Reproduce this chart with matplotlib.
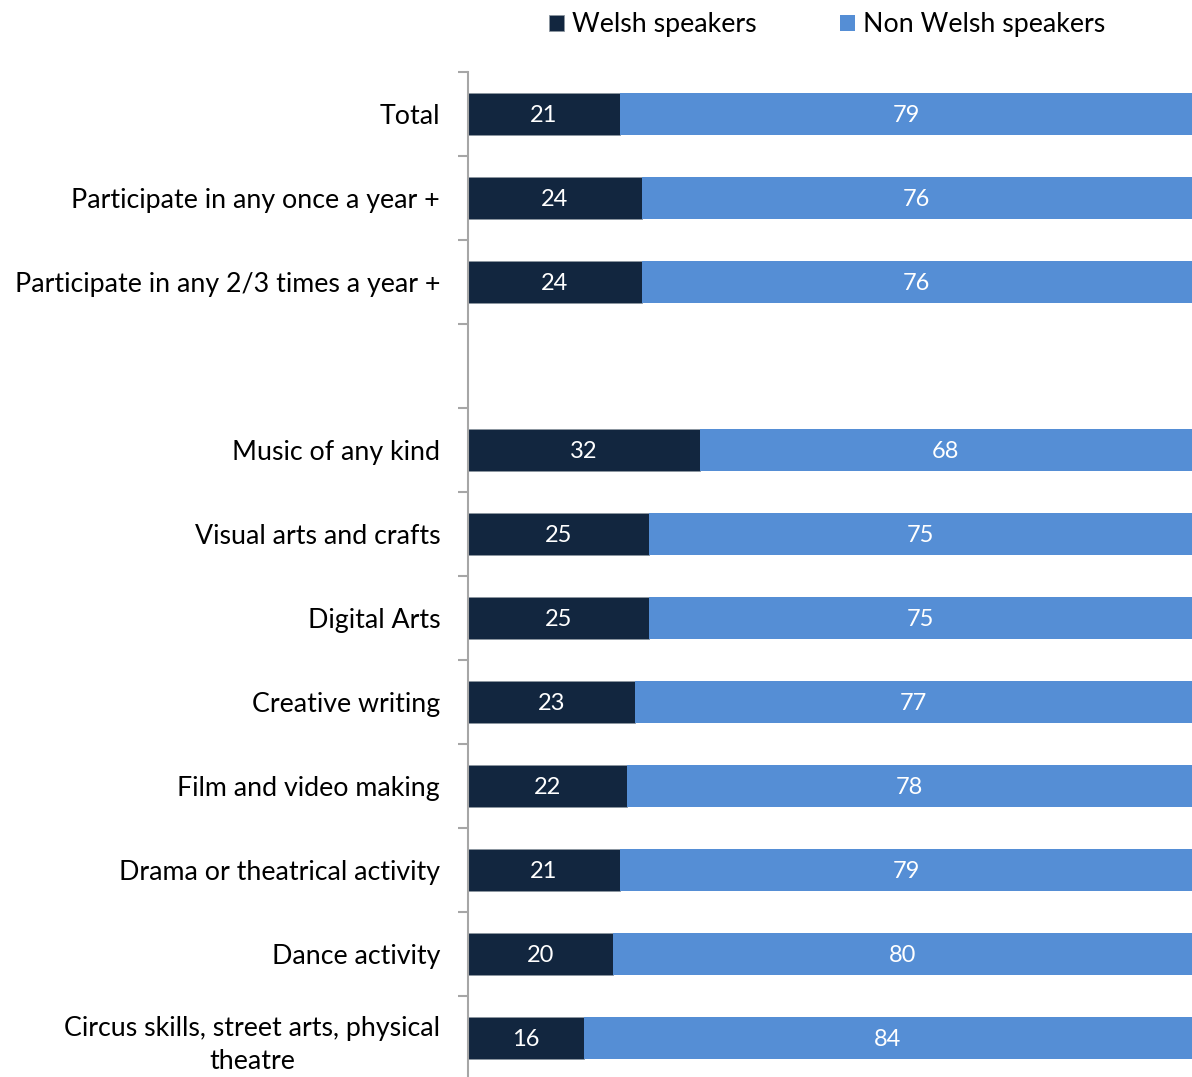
import numpy as np
import matplotlib.pyplot as plt

categories = ["Total", "Participate in any once a year +",
              "Participate in any 2/3 times a year +", "",
              "Music of any kind", "Visual arts and crafts", "Digital Arts",
              "Creative writing", "Film and video making",
              "Drama or theatrical activity", "Dance activity",
              "Circus skills, street arts, physical\ntheatre"]
welsh = [21, 24, 24, None, 32, 25, 25, 23, 22, 21, 20, 16]
non_welsh = [79, 76, 76, None, 68, 75, 75, 77, 78, 79, 80, 84]

DARK = "#12263F"
LIGHT = "#558ED5"

plt.rcParams['font.family'] = ['Lato', 'DejaVu Sans']

fig = plt.figure(figsize=(11.92, 10.77), dpi=100)
ax = fig.add_axes([0.3926, -0.0028, 0.6074, 0.9359])

pos = np.arange(len(categories))
keep = [i for i, v in enumerate(welsh) if v is not None]
w = np.array([welsh[i] for i in keep])
nw = np.array([non_welsh[i] for i in keep])
y = pos[keep]

b1 = ax.barh(y, w, height=0.5, color=DARK, edgecolor="#8C96A0", linewidth=0.6,
             label="Welsh speakers")
b2 = ax.barh(y, nw, left=w, height=0.5, color=LIGHT, edgecolor=LIGHT, linewidth=0,
             label="Non Welsh speakers")
# segment values, nudged a touch down so the digits sit centred
for bars, vals in ((b1, w), (b2, nw)):
    for r, v in zip(bars, vals):
        ax.text(r.get_x() + r.get_width() / 2, r.get_y() + r.get_height() / 2 + 0.02,
                str(v), ha='center', va='center', color='white', fontsize=17)

ax.set_xlim(0, 100)
ax.set_ylim(len(categories) - 0.5, -0.5)
ax.set_yticks(pos)
ax.set_yticklabels(categories, fontsize=19.3, linespacing=1.4)
for t in ax.get_yticklabels():
    t.set_multialignment('center')
ax.tick_params(axis='y', which='major', length=0, pad=20)
ax.set_yticks(np.arange(-0.5, len(categories), 1), minor=True)
ax.tick_params(axis='y', which='minor', length=7, width=1.5, color='#A6A6A6')
ax.set_xticks([])
for s in ['top', 'right', 'bottom']:
    ax.spines[s].set_visible(False)
ax.spines['left'].set_color('#A6A6A6')
ax.spines['left'].set_linewidth(1.5)

fig.legend(handles=[b1, b2], loc='center', bbox_to_anchor=(0.694, 0.977), ncol=2,
           frameon=False, fontsize=19.3, handlelength=0.55, handleheight=0.55,
           handletextpad=0.3, columnspacing=3.1)

fig.savefig("out.png", dpi=100)
